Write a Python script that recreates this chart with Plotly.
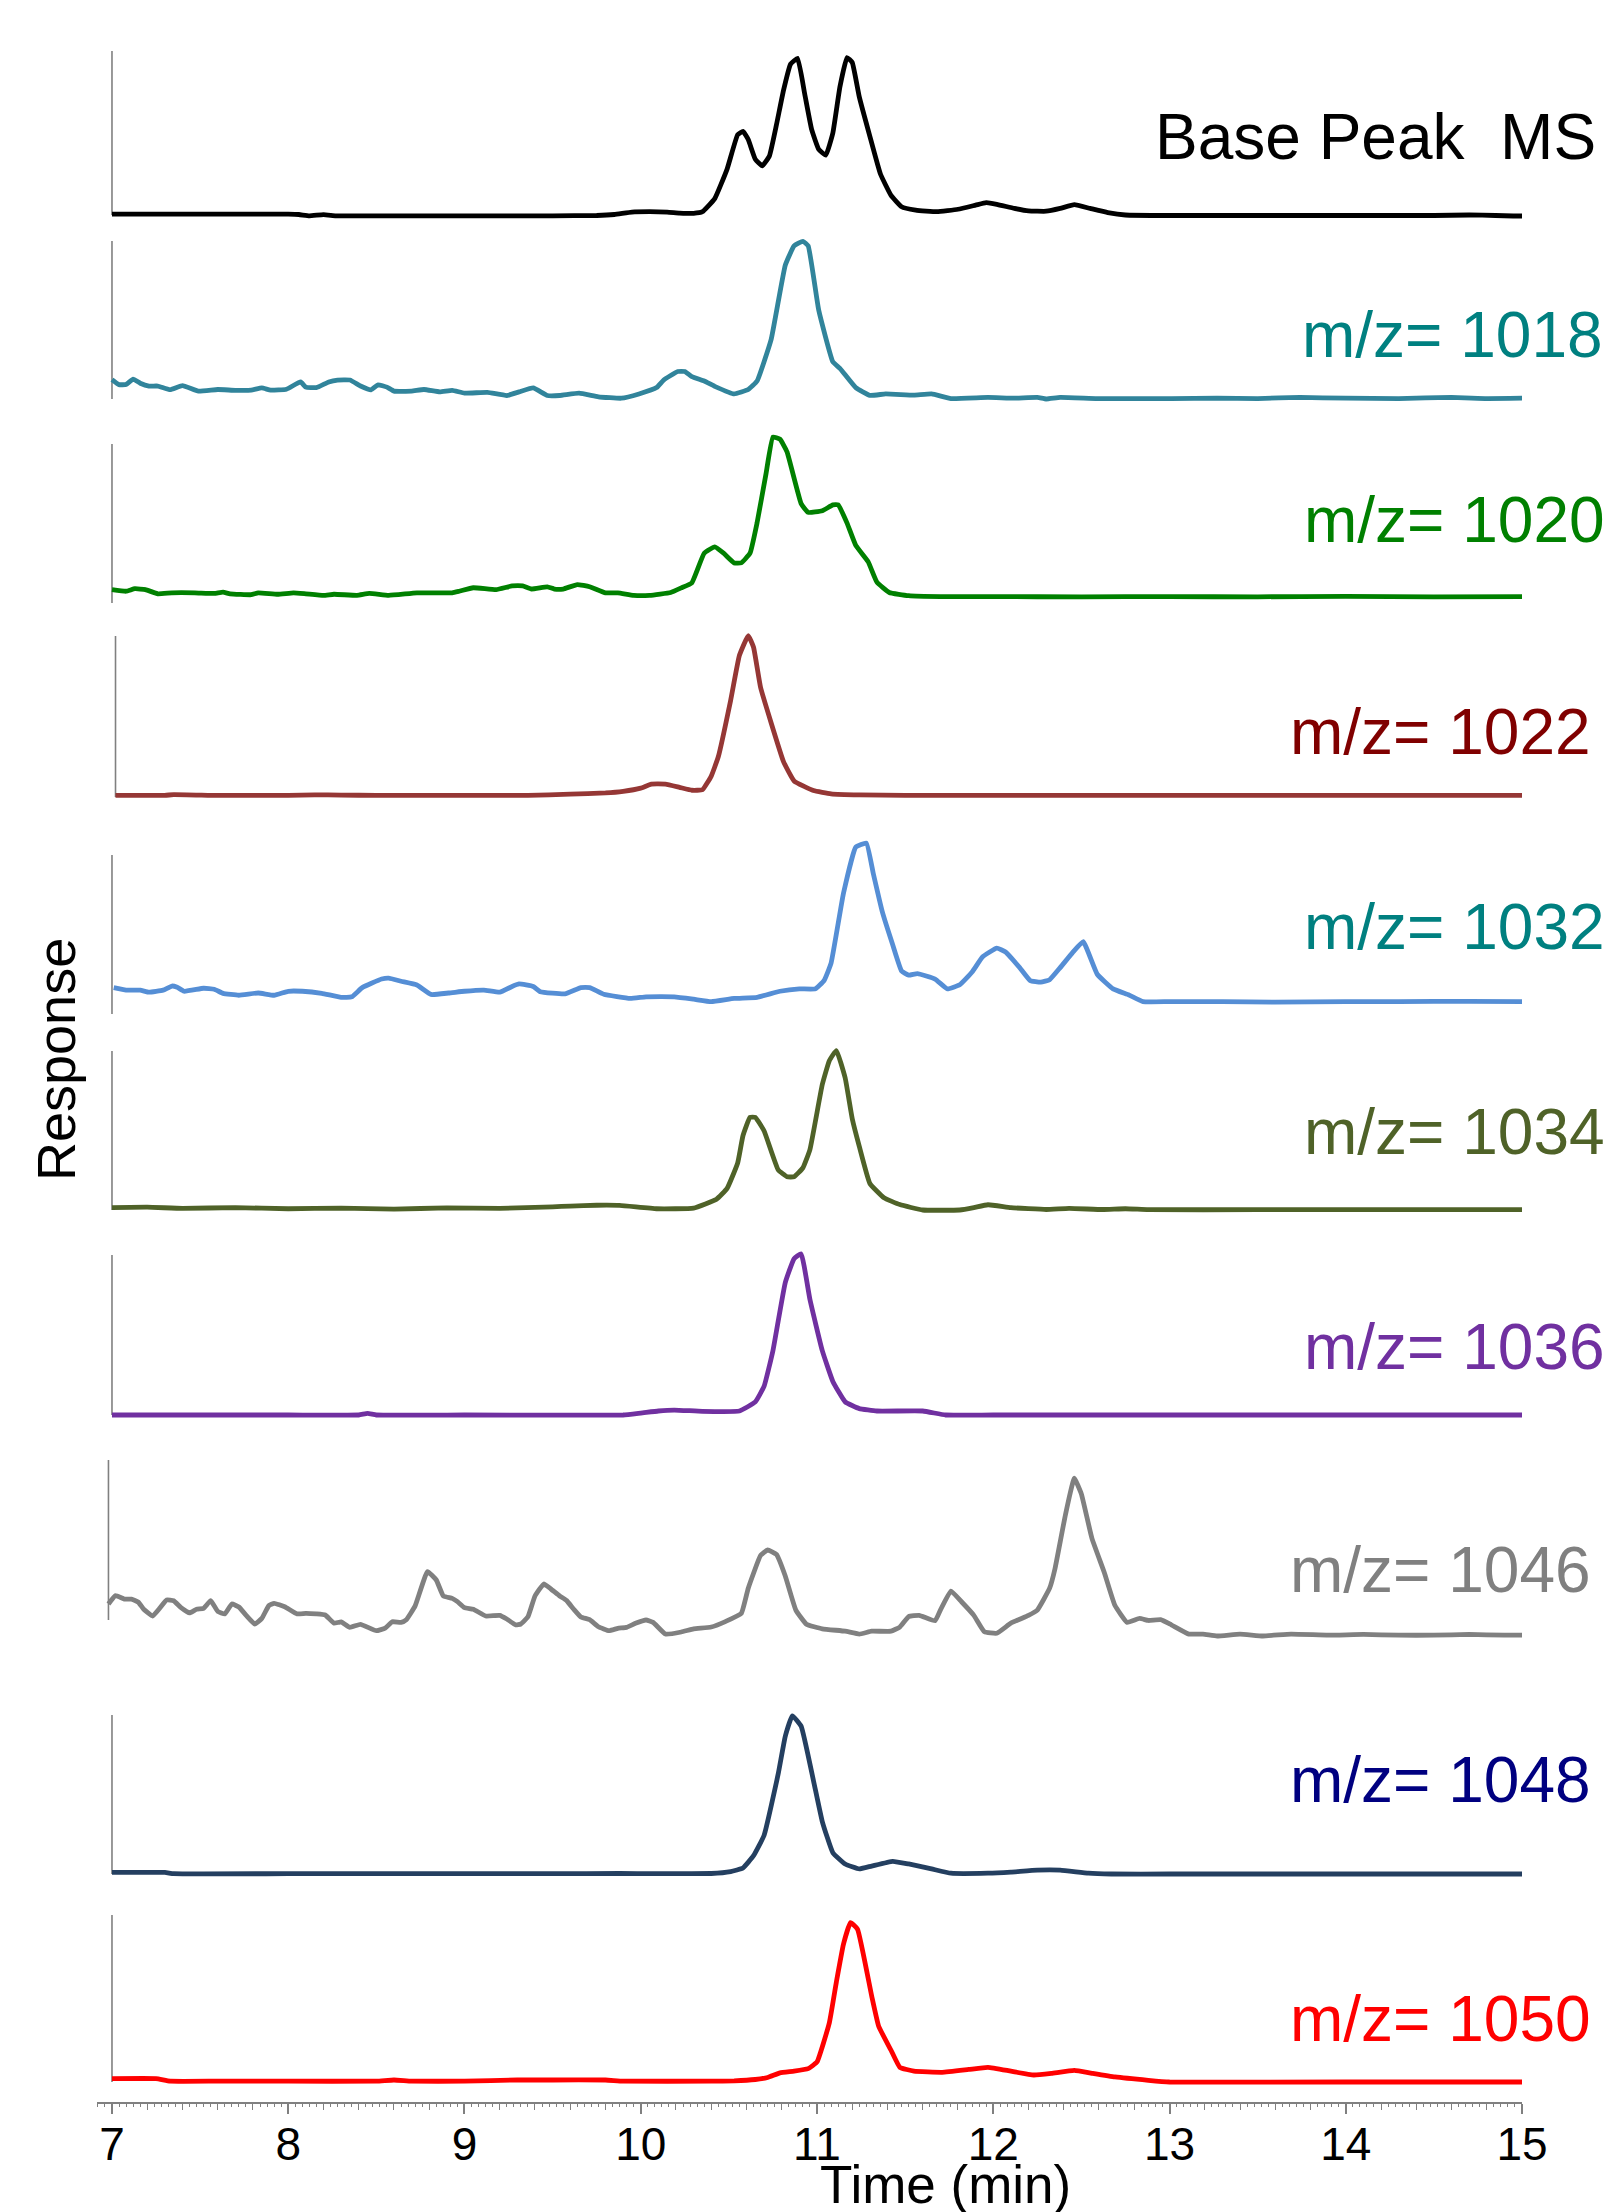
import plotly.graph_objects as go

# ---------------- data (time in min, response in % of panel height) ----------------
bp_t = [7.0, 7.5, 8.0, 8.06, 8.12, 8.2, 8.27, 8.35, 9.0, 9.5, 9.75, 9.85, 9.95, 10.05, 10.15, 10.22, 10.3, 10.35,
        10.42, 10.49, 10.55, 10.58, 10.61, 10.65, 10.69, 10.73, 10.77, 10.81, 10.85, 10.89, 10.93, 10.97, 11.01,
        11.05, 11.09, 11.13, 11.17, 11.2, 11.24, 11.3, 11.36, 11.42, 11.48, 11.56, 11.68, 11.8, 11.9, 11.96, 12.02,
        12.12, 12.2, 12.3, 12.38, 12.46, 12.55, 12.65, 12.75, 13.0, 13.5, 14.0, 14.5, 14.7, 14.85, 14.95, 15.0]
bp_v = [0.5, 0.5, 0.5, 0.3, -0.5, 0.2, -0.5, -0.5, -0.5, -0.5, -0.3, 0.3, 1.8, 2.0, 1.8, 1.2, 1.0, 2.0,
        10, 28, 49, 51, 46, 34, 30, 36, 55, 76, 92, 95.5, 74, 52, 40,
        36.5, 50, 78, 96, 93, 72, 48, 25, 12, 5, 3, 2, 3.5, 6, 7.5, 6.5,
        4, 2.5, 2.3, 4, 6.3, 4, 1.5, 0, -0.3, -0.3, -0.3, -0.3, 0, -0.3, -0.6, -0.6]

mz1018_t = [7.0, 7.04, 7.08, 7.12, 7.16, 7.21, 7.26, 7.33, 7.40, 7.49, 7.6, 7.7, 7.79, 7.85, 7.9, 7.99, 8.07, 8.1,
            8.16, 8.23, 8.28, 8.35, 8.41, 8.47, 8.51, 8.56, 8.6, 8.7, 8.77, 8.86, 8.93, 9.0, 9.13, 9.24, 9.31, 9.39,
            9.47, 9.54, 9.65, 9.76, 9.89, 9.99, 10.09, 10.13, 10.21, 10.25, 10.29, 10.36, 10.42, 10.53, 10.61,
            10.66, 10.74, 10.82, 10.87, 10.92, 10.95, 11.01, 11.09, 11.13, 11.22, 11.3, 11.39, 11.55, 11.65, 11.76,
            11.97, 12.12, 12.25, 12.3, 12.38, 12.59, 13.01, 13.27, 13.5, 13.74, 14.0, 14.3, 14.6, 14.8, 15.0]
mz1018_v = [12.3, 9.1, 9.2, 12.6, 10, 8.2, 8.2, 5.9, 8.5, 5, 6, 5.5, 5.6, 7, 5.6, 6.2, 10.8, 7.5,
            7.2, 10.8, 12, 12, 8.2, 5.8, 9, 7.5, 5, 5, 6, 4.5, 5.5, 3.7, 4.2, 2.2, 4.5, 7,
            2.2, 2.2, 3.7, 1.4, 0.5, 3.2, 7.2, 12, 17.4, 17.4, 14.2, 11.4, 8, 3.2, 6,
            11.4, 37.8, 84.7, 96.9, 99.8, 96.9, 56.1, 23.5, 19.4, 7.2, 2.3, 3.2, 2.5, 3.2, 0.3,
            1.0, 0.5, 1.0, 0, 1.0, 0.3, 0.3, 0.6, 0.3, 1.0, 0.5, 0.3, 1.0, 0.3, 0.5]

mz1020_t = [7.0, 7.08, 7.13, 7.19, 7.26, 7.34, 7.47, 7.58, 7.63, 7.67, 7.79, 7.83, 7.94, 8.03, 8.1, 8.2, 8.26,
            8.39, 8.46, 8.57, 8.73, 8.93, 8.97, 9.05, 9.18, 9.27, 9.33, 9.38, 9.47, 9.51, 9.56, 9.64, 9.71, 9.8,
            9.87, 9.96, 10.05, 10.17, 10.23, 10.29, 10.36, 10.42, 10.47, 10.53, 10.57, 10.62, 10.66, 10.71, 10.75,
            10.79, 10.83, 10.91, 10.95, 11.03, 11.09, 11.12, 11.17, 11.22, 11.29, 11.34, 11.41, 11.52, 11.7, 12.0,
            12.5, 13.0, 13.5, 14.0, 14.5, 15.0]
mz1020_v = [8.4, 7.4, 9, 8.4, 5.8, 6.4, 6.4, 6, 6.8, 5.8, 5.2, 6.4, 5.5, 6.4, 5.8, 4.8, 5.5,
            4.8, 6, 4.8, 6.4, 6.4, 7.4, 9.6, 8.4, 10.7, 10.7, 8.8, 10.2, 8.8, 8.8, 11.6, 10.2, 6.4,
            6.4, 4.8, 4.8, 6.6, 9.5, 12.7, 31.3, 35.3, 31.3, 25.2, 25.2, 31.3, 50.4, 80.8, 104.3,
            103, 95, 62.5, 57, 58, 61.7, 61.7, 50.4, 36.2, 26, 13.1, 6.6, 4.6, 4, 4,
            3.9, 4, 3.9, 4.2, 3.9, 4]

mz1022_t = [7.02, 7.3, 7.35, 7.6, 8.0, 8.15, 8.3, 8.5, 9.0, 9.36, 9.6, 9.8, 9.9, 10.0, 10.06, 10.14, 10.22, 10.29,
            10.35, 10.40, 10.44, 10.51, 10.56, 10.61, 10.64, 10.68, 10.74, 10.81, 10.87, 10.98, 11.08, 11.24, 11.5,
            12.0, 13.0, 14.0, 15.0]
mz1022_v = [1, 1, 1.5, 1, 1, 1.3, 1.2, 1, 1, 1, 1.8, 2.5, 3.5, 5.5, 8, 8, 6, 4.2,
            4.5, 13, 25, 60, 88, 100.2, 93, 68, 46, 22, 10, 4, 2, 1.3, 1,
            1, 1, 1, 1]

mz1032_t = [7.01, 7.08, 7.16, 7.21, 7.29, 7.34, 7.37, 7.41, 7.52, 7.58, 7.63, 7.72, 7.83, 7.92, 8.0, 8.08, 8.19,
            8.3, 8.36, 8.42, 8.53, 8.57, 8.64, 8.73, 8.81, 8.91, 9.0, 9.11, 9.2, 9.27, 9.31, 9.39, 9.43, 9.57, 9.66,
            9.71, 9.79, 9.94, 10.03, 10.19, 10.3, 10.4, 10.53, 10.66, 10.79, 10.9, 10.99, 11.04, 11.08, 11.15,
            11.22, 11.28, 11.32, 11.37, 11.43, 11.48, 11.52, 11.57, 11.67, 11.74, 11.81, 11.88, 11.94, 12.02,
            12.07, 12.15, 12.21, 12.27, 12.32, 12.38, 12.45, 12.51, 12.59, 12.68, 12.77, 12.85, 13.0, 13.3, 13.6,
            14.0, 14.3, 14.7, 15.0]
mz1032_v = [16.6, 15, 15, 13.7, 15, 17.6, 16.8, 14.3, 16.2, 15.6, 13, 11.8, 13.2, 11.8, 14.3, 14.3, 13,
            10.5, 10.8, 16.6, 22, 22.6, 20.6, 18.2, 12.3, 13.2, 14.3, 15, 13.7, 17.3, 18.9, 17.3, 14, 12.7, 16.6,
            16.6, 12.4, 9.8, 10.8, 10.8, 9.3, 7.8, 9.8, 10.5, 14.3, 15.8, 15.8, 21, 32, 75.8,
            105, 107.5, 88, 64.5, 43.4, 27, 24.4, 25.4, 22, 15.8, 18.4, 26.4, 36, 41.4,
            39, 29.2, 21, 20, 21.6, 29.2, 38.6, 45.5, 25, 15.8, 12, 7.8, 7.8, 7.8, 7.5,
            7.8, 7.8, 8, 7.8]

mz1034_t = [7.0, 7.2, 7.4, 7.7, 8.0, 8.3, 8.6, 8.9, 9.2, 9.5, 9.6, 9.75, 9.88, 10.09, 10.3, 10.43, 10.49, 10.55,
            10.58, 10.62, 10.65, 10.7, 10.78, 10.83, 10.87, 10.92, 10.96, 11.03, 11.07, 11.11, 11.16, 11.2, 11.24,
            11.3, 11.38, 11.47, 11.6, 11.81, 11.89, 11.97, 12.1, 12.3, 12.43, 12.62, 12.75, 12.88, 13.5, 14.0,
            14.5, 15.0]
mz1034_v = [1.5, 1.8, 1.0, 1.5, 0.8, 1.2, 0.6, 1.3, 1.0, 2.0, 2.5, 3.0, 2.9, 0.8, 1.2, 6.8, 13.6, 29.6,
            46.7, 58.3, 58.3, 49.7, 25.2, 20.9, 20.9, 26.5, 38, 78.9, 93.9, 100.3, 83, 57.4, 40,
            16.7, 7.7, 3.4, 0, 0, 1.5, 3.3, 1.5, 0.3, 1.0, 0.3, 0.8, 0.2, 0.2, 0.2,
            0.2, 0.2]

mz1036_t = [7.0, 8.0, 8.4, 8.45, 8.5, 9.0, 9.9, 10.0, 10.1, 10.19, 10.35, 10.56, 10.65, 10.7, 10.75, 10.82,
            10.87, 10.91, 10.96, 11.03, 11.09, 11.16, 11.24, 11.34, 11.6, 11.73, 12.0, 15.0]
mz1036_v = [0, 0, 0, 1, 0, 0, 0, 1.2, 2.5, 3.1, 2.3, 2.5, 8.2, 18, 40.2, 82.8,
            97.7, 100.7, 72.2, 40.2, 21, 8.2, 4, 2.5, 2.5, 0, 0, 0]

mz1046_t = [6.98, 7.02, 7.07, 7.11, 7.15, 7.18, 7.23, 7.27, 7.31, 7.35, 7.39, 7.44, 7.48, 7.52, 7.56, 7.6, 7.64,
            7.68, 7.72, 7.76, 7.81, 7.85, 7.89, 7.92, 7.98, 8.05, 8.1, 8.16, 8.21, 8.26, 8.3, 8.35, 8.41, 8.5,
            8.55, 8.59, 8.64, 8.67, 8.72, 8.79, 8.84, 8.88, 8.93, 8.96, 9.0, 9.05, 9.12, 9.2, 9.24, 9.29, 9.32,
            9.36, 9.4, 9.45, 9.49, 9.54, 9.58, 9.62, 9.66, 9.71, 9.76, 9.82, 9.87, 9.92, 9.97, 10.03, 10.07,
            10.14, 10.23, 10.3, 10.4, 10.48, 10.57, 10.61, 10.68, 10.72, 10.77, 10.82, 10.88, 10.94, 11.03,
            11.16, 11.24, 11.31, 11.42, 11.47, 11.52, 11.58, 11.67, 11.7, 11.76, 11.82, 11.89, 11.95, 12.02,
            12.1, 12.2, 12.25, 12.32, 12.35, 12.41, 12.46, 12.5, 12.56, 12.63, 12.69, 12.76, 12.83, 12.88,
            12.95, 13.01, 13.11, 13.19, 13.27, 13.4, 13.53, 13.69, 13.9, 14.1, 14.3, 14.5, 14.7, 14.9, 15.0]
mz1046_v = [10, 15.2, 13.1, 13, 11.1, 6.7, 2.5, 7.3, 12.5, 12, 7.9, 4.4, 6.7, 7.3, 12.1, 5.4, 3.8,
            10, 8.1, 3.1, -2.5, 1.0, 9, 10.4, 8.3, 3.8, 4.2, 3.8, 3.1, -2, -1.2, -4.6, -2.7, -6.7,
            -5.1, -1.1, -1.5, 0.2, 8.8, 30.2, 25, 15, 13.5, 11.5, 7.7, 6.7, 2.5, 2.9, 0.6, -3, -2.5,
            2, 15, 22.5, 19.4, 15, 12.1, 6.7, 1.9, 0.2, -4.2, -6.7, -5.2, -4.6, -2.1, 0, -1.5,
            -8.8, -7.5, -5.5, -4.4, -1, 4, 19.9, 40.4, 43.8, 41, 27.5, 6.2, -2.6, -5.5,
            -7, -8.8, -7, -7, -4.4, 2.1, 2.9, -0.5, 6.2, 18.1, 11.4, 2.9, -7.4, -8.3,
            -2, 2.9, 6.2, 19.9, 31.9, 66, 88.6, 78.8, 51, 29.7, 9.2, -1.5, 1.0, -0.3,
            0.2, -3, -8.8, -8.8, -10, -8.8, -10, -8.8, -9.5, -9, -9.5, -9.5, -9, -9.5, -9.5]

mz1048_t = [7.0, 7.3, 7.35, 8.0, 9.0, 9.5, 9.88, 10.4, 10.51, 10.58, 10.64, 10.7, 10.78, 10.82, 10.86, 10.91,
            10.98, 11.03, 11.09, 11.16, 11.24, 11.31, 11.43, 11.52, 11.65, 11.76, 11.97, 12.1, 12.25, 12.38,
            12.54, 12.67, 13.0, 14.0, 15.0]
mz1048_v = [1.0, 1.0, 0.2, 0.2, 0.2, 0.2, 0.3, 0.3, 1.5, 3.8, 11.5, 24.4, 63, 86.6, 99.5, 93,
            58.7, 33, 13.4, 6.3, 3.2, 5, 8, 6.3, 3.2, 0.5, 0.5, 1.2, 2.4, 2.4,
            0.5, 0, 0, 0, 0]

mz1050_t = [7.0, 7.25, 7.33, 7.6, 8.0, 8.5, 8.6, 8.7, 9.0, 9.3, 9.5, 9.8, 9.9, 10.4, 10.53, 10.65, 10.72, 10.79,
            10.87, 10.95, 11.0, 11.07, 11.11, 11.15, 11.19, 11.23, 11.31, 11.35, 11.42, 11.47, 11.55, 11.71,
            11.86, 11.97, 12.1, 12.23, 12.33, 12.46, 12.56, 12.69, 12.88, 13.0, 14.0, 15.0]
mz1050_v = [2, 2, 0.5, 0.5, 0.5, 0.5, 1.2, 0.5, 0.5, 1.2, 1.2, 1.2, 0.5, 0.5, 0.7, 1.5, 2.7, 5.5,
            6.5, 8, 12, 35.4, 59.9, 82.4, 95.4, 91.5, 51.7, 33.4, 19, 8.8, 6.5, 5.8,
            7.5, 8.8, 6.5, 4.2, 5.2, 7, 5.2, 3, 1, 0, 0, 0]

labels = ["Base Peak  MS", "m/z= 1018", "m/z= 1020", "m/z= 1022", "m/z= 1032",
          "m/z= 1034", "m/z= 1036", "m/z= 1046", "m/z= 1048", "m/z= 1050"]
series_t = [bp_t, mz1018_t, mz1020_t, mz1022_t, mz1032_t, mz1034_t, mz1036_t, mz1046_t, mz1048_t, mz1050_t]
series_v = [bp_v, mz1018_v, mz1020_v, mz1022_v, mz1032_v, mz1034_v, mz1036_v, mz1046_v, mz1048_v, mz1050_v]
x_ticks = [7, 8, 9, 10, 11, 12, 13, 14, 15]

# ---------------- styling / layout geometry ----------------
line_colors = ["#000000", "#31849B", "#008000", "#953735", "#558ED5",
               "#4F6228", "#7030A0", "#808080", "#243F60", "#FF0000"]
label_colors = ["#000000", "#008080", "#008000", "#800000", "#008080",
                "#4F6228", "#7030A0", "#808080", "#000080", "#FF0000"]
FONT = "Liberation Sans, Arial, Helvetica, sans-serif"

W, H = 1609, 2212
ML, MR, MT, MB = 97, 87, 20, 109
PLOT_TOP = MT
PLOT_BOT = H - MB
PLOT_H = PLOT_BOT - PLOT_TOP
PLOT_W = W - ML - MR

axis_top_px = [51, 241, 444, 636, 855, 1051, 1255, 1460, 1715, 1915]
axis_bot_px = [215, 399, 603, 797, 1014, 1210, 1415, 1620, 1874, 2082]
axis_line_x = [7, 7, 7, 7.02, 7, 7, 7, 6.98, 7, 7]
label_right_px = [1598, 1605, 1607, 1593, 1607, 1607, 1607, 1593, 1593, 1593]
label_mid_px = [137, 335, 520, 732, 927, 1132, 1347, 1570, 1780, 2019]


def ppy(p):
    return (PLOT_BOT - p) / PLOT_H


def ppx(p):
    return (p - ML) / PLOT_W


fig = go.Figure()
layout_axes = {}
shapes = []
annotations = []
n = len(labels)
for i in range(n):
    yname = "y" if i == 0 else f"y{i+1}"
    lname = "yaxis" if i == 0 else f"yaxis{i+1}"
    T, B = axis_top_px[i], axis_bot_px[i]
    lo_px = min(B + 20, PLOT_BOT - 1)
    hi_px = PLOT_TOP if i == 0 else axis_bot_px[i - 1] + 20

    def vof(p, T=T, B=B):
        return (B - p) / (B - T) * 100.0

    layout_axes[lname] = dict(domain=[ppy(lo_px), ppy(hi_px)], range=[vof(lo_px), vof(hi_px)],
                              visible=False, anchor="x", fixedrange=True)
    fig.add_trace(go.Scatter(x=series_t[i], y=series_v[i], mode="lines", xaxis="x", yaxis=yname,
                             line=dict(color=line_colors[i], width=4.8, shape="spline", smoothing=0.35),
                             showlegend=False, hoverinfo="skip"))
    shapes.append(dict(type="line", xref="x", yref=yname, x0=axis_line_x[i], x1=axis_line_x[i],
                       y0=0, y1=100, line=dict(color="#808080", width=1.6), layer="below"))
    annotations.append(dict(text=labels[i], xref="paper", yref="paper",
                            x=ppx(label_right_px[i]), y=ppy(label_mid_px[i]),
                            xanchor="right", yanchor="middle", showarrow=False,
                            font=dict(family=FONT, size=64, color=label_colors[i])))

# dummy trace to carry the secondary (tick-only) x axis
fig.add_trace(go.Scatter(x=[7], y=[None], xaxis="x2", yaxis="y10", mode="lines",
                         showlegend=False, hoverinfo="skip"))

annotations.append(dict(text="Response", xref="paper", yref="paper", x=ppx(56), y=ppy(1060),
                        xanchor="center", yanchor="middle", textangle=-90, showarrow=False,
                        font=dict(family=FONT, size=54, color="black")))
annotations.append(dict(text="Time (min)", xref="paper", yref="paper", x=ppx(945), y=ppy(2184),
                        xanchor="center", yanchor="middle", showarrow=False,
                        font=dict(family=FONT, size=53, color="black")))

x0 = 6.915
med_vals = [round(7 + 0.2 * k, 2) for k in range(41)]
med_text = [str(int(round(v))) if abs(v - round(v)) < 1e-6 else "" for v in med_vals]

fig.update_layout(
    width=W, height=H,
    margin=dict(l=ML, r=MR, t=MT, b=MB, pad=0),
    paper_bgcolor="white", plot_bgcolor="white",
    showlegend=False,
    shapes=shapes, annotations=annotations,
    xaxis=dict(range=[x0, 15], anchor="free", position=0, showline=True, linecolor="#808080",
               linewidth=1.6, ticks="outside", tickmode="array", tickvals=med_vals, ticktext=med_text,
               ticklen=6, tickwidth=1.4, tickcolor="#808080", ticklabelstandoff=-5,
               minor=dict(tickmode="linear", tick0=7, dtick=0.04, ticks="outside", ticklen=3,
                          tickwidth=1, tickcolor="#808080"),
               tickfont=dict(family=FONT, size=46, color="black"),
               showgrid=False, zeroline=False, fixedrange=True),
    xaxis2=dict(range=[x0, 15], overlaying="x", anchor="free", position=0, showline=False,
                ticks="outside", tickmode="array", tickvals=x_ticks, ticklen=10, tickwidth=1.6,
                tickcolor="#808080", showticklabels=False, showgrid=False, zeroline=False,
                fixedrange=True),
    **layout_axes,
)

fig.write_html("out.html")
